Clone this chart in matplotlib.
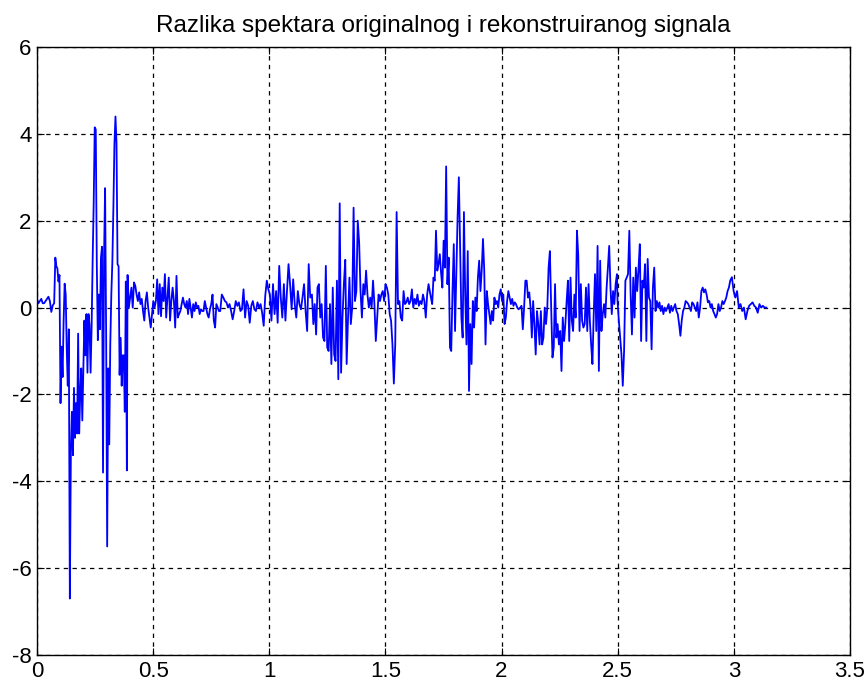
import numpy as np
import matplotlib
matplotlib.use("Agg")
import matplotlib.pyplot as plt

# difference of spectra in pieces (x range, values)
seg1_x = (0.0, 0.074)
seg1_y = [0.2, 0.1, 0.15, 0.2, 0.1, 0.1, 0.15, 0.2, 0.25, 0.15, -0.1, 0.05, 0.1]

seg2_x = (0.079, 0.387)
seg2_y = [1.15, 0.95, 0.9, 0.6, 0.75, -2.2, -0.9, -1.6, -0.3, 0.55, 0.3, -0.95, -1.8,
          -0.5, -6.7, -3.3, -2.4, -3.4, -1.85, -3.0, -2.2, -2.9, -0.6, -2.9, -2.0,
          -1.4, -2.6, -1.4, -0.3, -1.1, -0.15, -1.5, -0.15, -0.4, -1.5, -0.45, 1.1,
          2.4, 4.15, 4.1, 1.0, -0.75, 0.3, -0.5, 1.15, 1.4, -3.8, 1.2, 2.75, -0.6,
          -5.5, -1.4, -3.15, -0.85, 0.3, 1.05, 2.3, 3.75, 4.4, 3.8, 1.0, 0.95, -1.55,
          -0.7, -1.8, -1.1, -1.1, -2.4, 0.6, -3.75]

seg3_x = (0.390, 0.7835)
seg3_y = [0.75, 0.0, 0.23, 0.46, 0.0, 0.58, 0.5, 0.3, 0.15, 0.35, 0.08, 0.2, -0.08,
          -0.3, 0.15, 0.35, 0.0, -0.23, -0.46, -0.15, 0.15, 0.0, 0.15, 0.65, -0.15,
          0.54, -0.2, 0.46, 0.15, 0.77, -0.23, 0.23, 0.69, -0.3, 0.15, 0.46, 0.15,
          -0.46, 0.73, -0.23, -0.15, -0.08, 0.08, 0.23, 0.08, 0.0, 0.15, -0.15, 0.2,
          0.0, -0.23, 0.08, -0.08, 0.12, 0.0, 0.04, -0.15, -0.04, -0.08, -0.08, 0.15,
          0.0, -0.15, -0.23, -0.04, 0.08, 0.3, -0.3, -0.46, 0.08, 0.0, -0.08]

seg4_x = (0.789, 1.1765)
seg4_y = [-0.08, 0.3, 0.23, 0.15, 0.12, 0.0, 0.08, -0.08, -0.27, -0.08, 0.15, 0.04,
          0.12, -0.08, -0.04, 0.42, -0.23, 0.15, 0.04, -0.35, 0.04, 0.15, -0.04,
          -0.08, 0.12, 0.0, 0.08, -0.12, -0.42, 0.27, 0.62, 0.42, 0.3, -0.3, 0.54,
          -0.15, 0.38, -0.35, 0.96, 0.23, -0.23, 0.54, -0.3, 0.38, 1.0, 0.54, -0.04,
          0.65, 0.08, -0.23, 0.38, 0.08, -0.04, 0.23, 0.54, -0.08, -0.54, 1.0, 0.23]

seg5_x = (1.1838, 1.6858)
seg5_y = [0.3, -0.38, 0.08, -0.62, 0.46, 0.54, -0.23, 0.08, -0.69, -0.77, 0.96,
          -0.92, -1.0, 0.08, -1.3, 0.46, -1.08, -1.23, 0.62, -1.65, 2.4, -1.5, -0.23,
          0.54, 1.1, -1.3, -0.23, 0.69, -0.38, 0.0, 2.3, 0.15, 0.38, 2.0, 1.5, 0.38,
          -0.23, 0.54, 0.3, 0.85, 0.3, 0.0, 0.23, 0.0, 0.62, 0.08, -0.77, -0.23, 0.3,
          0.15, 0.3, 0.38, 0.15, 0.54, 0.46, 0.3, -0.15, -0.3, -0.85, -1.75, -0.85,
          2.2, 0.08, 0.15, -0.23, -0.3, 0.38, 0.08, 0.12, 0.23, 0.08, 0.15, 0.42, 0.0,
          0.2, 0.08, 0.3, 0.04, 0.15, 0.08, 0.3, 0.15, -0.23, 0.3, 0.54]

seg6_x = (1.696, 2.0732)
seg6_y = [0.23, 0.08, 0.69, 0.62, 1.77, 0.85, 1.0, 1.23, 0.8, 0.46, 1.54, 0.92, 3.25,
          0.54, 1.15, -0.92, -1.0, 0.38, 1.46, -0.54, 0.77, 2.08, 3.0, 1.38, -0.23,
          -0.69, 2.2, 0.3, -0.85, 1.3, -1.92, -0.38, -1.3, 0.15, -0.46, 0.23, -0.08,
          0.69, 1.08, 0.38, 0.85, 1.58, 0.85, -0.85, 0.38, 0.08, -0.15, -0.38, -0.08,
          -0.3, 0.23, 0.08, 0.15, 0.0, 0.3, 0.42, 0.15, 0.3, -0.38, -0.23, 0.15, 0.38,
          0.23, 0.08, 0.2, 0.04, 0.12, 0.08, 0.0, -0.04]

seg7_x = (2.0805, 2.4968)
seg7_y = [0.0, 0.04, -0.5, 0.0, 0.62, 0.62, 0.23, 0.35, 0.0, -0.69, 0.15, -0.38,
          -1.08, -0.08, -0.38, -0.85, -0.08, -0.85, -0.69, 0.0, -0.38, 0.0, 0.92, 1.3,
          0.0, -1.15, -0.92, 0.54, -0.69, -0.38, -0.85, -0.54, -1.46, -0.23, -0.77,
          -0.38, 0.15, 0.62, -0.77, 0.69, -0.3, -0.54, 0.3, -0.23, 1.77, 1.2, -0.54,
          0.54, -0.3, -0.46, -0.38, 0.46, -0.54, 0.54, -0.3, -0.85, -1.3, -0.15, 0.77,
          -0.54, 1.42, -1.46, 1.08, -0.54, -0.15, 0.08, -0.23, 0.46, 0.92, 1.42, 0.46,
          -0.15, 0.38, 0.08, 0.54, 0.77]

seg8_x = (2.4994, 2.9845)
seg8_y = [0.15, -0.3, -0.69, -1.08, -1.8, -1.0, 0.62, 0.69, 0.77, 1.77, 0.3, -0.62,
          0.69, -0.23, 0.92, 0.38, 0.88, 1.46, -0.77, 0.62, 0.46, 1.0, -0.77, 1.12,
          0.23, 0.15, -0.96, 0.46, 0.92, -0.08, 0.15, 0.0, 0.12, -0.08, 0.04, -0.15,
          0.0, -0.08, 0.0, 0.08, -0.12, 0.04, -0.08, 0.0, 0.08, -0.08, -0.15, -0.38,
          -0.65, -0.3, -0.08, 0.0, 0.15, 0.12, 0.08, 0.0, -0.08, 0.12, 0.08, 0.0,
          -0.08, 0.12, -0.23, 0.0, 0.38, 0.46, 0.35, 0.42, 0.3, 0.12, 0.15, 0.0, 0.08,
          -0.08, -0.15, -0.23, -0.15, 0.08, -0.08, 0.0, 0.15, 0.08, 0.15, 0.23, 0.38,
          0.46, 0.62]

seg9_x = (2.9918, 3.14)
seg9_y = [0.7, 0.38, 0.23, 0.38, 0.0, 0.08, -0.08, 0.0, -0.27, -0.08, 0.04, 0.08,
          0.12, 0.04, 0.0, -0.12, 0.08, 0.0, 0.04, 0.0, 0.0]

segments = [(seg1_x, seg1_y), (seg2_x, seg2_y), (seg3_x, seg3_y), (seg4_x, seg4_y),
            (seg5_x, seg5_y), (seg6_x, seg6_y), (seg7_x, seg7_y), (seg8_x, seg8_y),
            (seg9_x, seg9_y)]

x_parts = []
y_parts = []
for (x0, x1), vals in segments:
    x_parts.append(np.linspace(x0, x1, len(vals)))
    y_parts.append(np.array(vals))
x = np.concatenate(x_parts)
y = np.concatenate(y_parts)

plt.rcParams['font.family'] = ['Liberation Sans', 'DejaVu Sans']
plt.rcParams['axes.unicode_minus'] = False

fig = plt.figure(figsize=(8.68, 6.84), dpi=100)
ax = fig.add_axes([0.0426, 0.0424, 0.9366, 0.8889])

ax.plot(x, y, color='#0000ff', linewidth=1.3)

ax.set_xlim(0, 3.5)
ax.set_ylim(-8, 6)
ax.set_xticks([0, 0.5, 1, 1.5, 2, 2.5, 3, 3.5])
ax.set_xticklabels(['0', '0.5', '1', '1.5', '2', '2.5', '3', '3.5'])
ax.set_yticks([-8, -6, -4, -2, 0, 2, 4, 6])
ax.tick_params(direction='in', length=5, width=0.8, top=True, right=True,
               labelsize=16, pad=4)
ax.grid(True, color='black', linestyle=(0, (3.5, 3.5)), linewidth=0.9)
for sp in ax.spines.values():
    sp.set_linewidth(1.0)

ax.set_title('Razlika spektara originalnog i rekonstruiranog signala', fontsize=17.5, pad=11)

fig.savefig('out.png', dpi=100)
